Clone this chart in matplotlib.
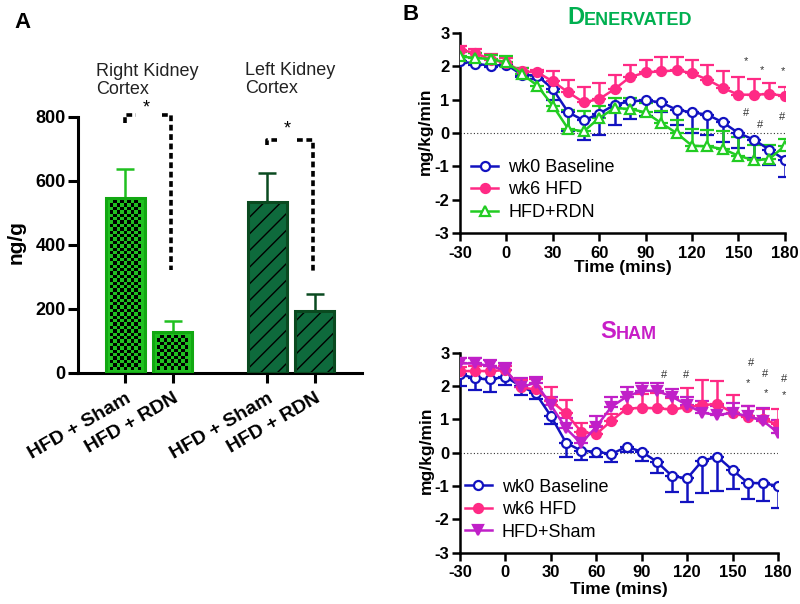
import numpy as np
import matplotlib
matplotlib.use('Agg')
import matplotlib.pyplot as plt
from matplotlib.colors import ListedColormap

plt.rcParams['font.family'] = ['Liberation Sans', 'DejaVu Sans']
plt.rcParams['axes.unicode_minus'] = False

# %% data - panel A
groups = ['HFD + Sham', 'HFD + RDN', 'HFD + Sham', 'HFD + RDN']
bar_pos = [1, 2, 4, 5]
bar_vals = [547, 128, 534, 194]
bar_errs = [90, 35, 91, 53]

# %% data - panel B
times = [-30, -20, -10, 0, 10, 20, 30, 40, 50, 60, 70, 80, 90, 100, 110, 120, 130, 140, 150, 160, 170, 180]

den_base = [2.15, 2.08, 2.02, 2.05, 1.75, 1.72, 1.32, 0.62, 0.38, 0.58, 0.85, 0.95, 0.98, 0.92, 0.70, 0.62, 0.55, 0.32, 0.00, -0.20, -0.50, -0.80]
den_base_err = [0.05, 0.05, 0.05, 0.05, 0.08, 0.10, 0.32, 0.57, 0.58, 0.63, 0.60, 0.53, 0.48, 0.30, 0.45, 0.62, 0.60, 0.60, 0.45, 0.55, 0.45, 0.52]
den_hfd = [2.50, 2.40, 2.20, 2.10, 1.85, 1.82, 1.55, 1.22, 0.92, 1.02, 1.32, 1.68, 1.82, 1.85, 1.88, 1.80, 1.60, 1.35, 1.15, 1.15, 1.17, 1.12]
den_hfd_err = [0.12, 0.12, 0.18, 0.15, 0.10, 0.08, 0.30, 0.38, 0.46, 0.48, 0.43, 0.37, 0.38, 0.43, 0.40, 0.40, 0.45, 0.50, 0.53, 0.47, 0.33, 0.26]
den_rdn = [2.30, 2.25, 2.22, 2.12, 1.78, 1.42, 0.82, 0.12, 0.05, 0.45, 0.75, 0.72, 0.62, 0.30, 0.00, -0.38, -0.40, -0.48, -0.68, -0.82, -0.78, -0.38]
den_rdn_err = [0.12, 0.15, 0.13, 0.18, 0.17, 0.30, 0.40, 0.58, 0.60, 0.35, 0.30, 0.33, 0.28, 0.35, 0.40, 0.50, 0.50, 0.53, 0.56, 0.47, 0.41, 0.20]

sham_base = [2.36, 2.23, 2.20, 2.28, 2.00, 1.78, 1.10, 0.30, 0.06, 0.03, -0.04, 0.18, 0.03, -0.27, -0.70, -0.77, -0.24, -0.12, -0.52, -0.90, -0.92, -0.99]
sham_base_err = [0.36, 0.35, 0.37, 0.25, 0.27, 0.18, 0.24, 0.42, 0.28, 0.15, 0.23, 0.15, 0.27, 0.33, 0.47, 0.70, 0.96, 1.02, 0.58, 0.50, 0.53, 0.68]
sham_hfd = [2.45, 2.45, 2.45, 2.48, 1.96, 1.90, 1.56, 1.18, 0.63, 0.56, 0.96, 1.32, 1.35, 1.33, 1.30, 1.36, 1.43, 1.46, 1.20, 1.06, 1.00, 0.85]
sham_hfd_err = [0.13, 0.15, 0.15, 0.12, 0.22, 0.30, 0.40, 0.40, 0.27, 0.25, 0.20, 0.36, 0.40, 0.45, 0.33, 0.57, 0.75, 0.70, 0.53, 0.34, 0.32, 0.45]
sham_sham = [2.68, 2.68, 2.60, 2.48, 1.96, 2.10, 1.43, 0.73, 0.28, 0.78, 1.38, 1.68, 1.86, 1.86, 1.68, 1.43, 1.20, 1.13, 1.20, 1.10, 0.96, 0.60]
sham_sham_err = [0.15, 0.15, 0.17, 0.20, 0.27, 0.16, 0.25, 0.30, 0.20, 0.32, 0.30, 0.28, 0.24, 0.22, 0.22, 0.23, 0.35, 0.27, 0.30, 0.30, 0.37, 0.38]

den_marks = [('*', 155, 2.17), ('*', 165, 1.90), ('*', 178.5, 1.85),
             ('#', 155, 0.60), ('#', 164, 0.25), ('#', 178, 0.48)]
sham_marks = [('#', 105, 2.33), ('#', 119, 2.33), ('#', 162, 2.68), ('#', 171.5, 2.36), ('#', 184, 2.20),
              ('*', 160, 2.08), ('*', 172, 1.80), ('*', 184, 1.73)]

LIGHT_GREEN = '#20c020'
LIGHT_EDGE = '#12a812'
DARK_GREEN = '#0e6a3c'
DARK_EDGE = '#0a4a20'
BLUE = '#1212c0'
PINK = '#ff2a85'
GREEN = '#22cc22'
MAGENTA = '#c020c8'

fig = plt.figure(figsize=(8, 6.04), dpi=100)


def style_axes(ax, lw):
    for side in ['top', 'right']:
        ax.spines[side].set_visible(False)
    for side in ['left', 'bottom']:
        ax.spines[side].set_linewidth(lw)


# %% panel A
axA = fig.add_axes([0.0975, 0.3825, 0.355, 0.4238])
style_axes(axA, 2.2)
axA.set_xlim(0, 6)
axA.set_ylim(0, 800)

bars = axA.bar(bar_pos[:2], bar_vals[:2], width=0.82, color=LIGHT_GREEN, linewidth=0, zorder=2)
axA.bar(bar_pos[2:], bar_vals[2:], width=0.82, color=DARK_GREEN, edgecolor='black',
        hatch='//', linewidth=0, zorder=2)
axA.bar(bar_pos[:2], bar_vals[:2], width=0.82, fill=False, edgecolor=LIGHT_EDGE, linewidth=2.2, zorder=4)
axA.bar(bar_pos[2:], bar_vals[2:], width=0.82, fill=False, edgecolor=DARK_EDGE, linewidth=2.2, zorder=4)

# checker texture inside the first two bars
checker_cmap = ListedColormap([LIGHT_GREEN, 'black'])
for b in bars:
    bb = b.get_window_extent()
    nx = max(1, int(round((bb.width - 8) / 3.4)))
    ny = max(1, int(round((bb.height - 6) / 3.4)))
    cells = np.indices((ny, nx)).sum(axis=0) % 2
    x0 = b.get_x()
    w = b.get_width()
    h = b.get_height()
    padx = w * 4 / bb.width
    pady = h * 3 / bb.height
    im = axA.imshow(cells, cmap=checker_cmap, interpolation='nearest', aspect='auto',
                    extent=(x0 + padx, x0 + w - padx, pady, h - pady), zorder=3)
    im.set_clip_path(b)
axA.set_xlim(0, 6)
axA.set_ylim(0, 800)

axA.errorbar(bar_pos[:2], bar_vals[:2], yerr=[[0, 0], bar_errs[:2]], fmt='none',
             ecolor=LIGHT_GREEN, elinewidth=1.8, capsize=6.5, capthick=1.8, zorder=1)
axA.errorbar(bar_pos[2:], bar_vals[2:], yerr=[[0, 0], bar_errs[2:]], fmt='none',
             ecolor=DARK_EDGE, elinewidth=1.8, capsize=6.5, capthick=1.8, zorder=1)

axA.set_yticks([0, 200, 400, 600, 800])
axA.set_xticks(bar_pos, labels=groups)
axA.tick_params(axis='both', direction='out', width=2.2, length=7, labelsize=13, pad=2)
axA.tick_params(axis='x', pad=5, labelsize=14)
plt.setp(axA.get_yticklabels(), fontweight='bold')
plt.setp(axA.get_xticklabels(), fontweight='bold', rotation=30, ha='right', rotation_mode='anchor')
axA.set_ylabel('ng/g', fontsize=15, fontweight='bold')
axA.yaxis.set_label_coords(-0.185, 0.51)

# significance brackets
dash = dict(color='black', lw=2.6, ls=(0, (1.6, 1.0)), clip_on=False, zorder=5)
axA.plot([1, 1, 1.22], [780, 806, 806], **dash)
axA.plot([1.78, 1.97, 1.97], [806, 806, 322], **dash)
axA.text(1.45, 828, '*', ha='center', va='center', fontsize=13, clip_on=False)
axA.plot([4, 4, 4.2], [712, 728, 728], **dash)
axA.plot([4.63, 4.96, 4.96], [728, 728, 312], **dash)
axA.text(4.42, 762, '*', ha='center', va='center', fontsize=13, clip_on=False)

fig.text(96 / 800, 1 - 63 / 604, 'Right Kidney\nCortex', fontsize=13, color='#222222',
         va='top', ha='left', linespacing=1.05)
fig.text(245 / 800, 1 - 62 / 604, 'Left Kidney\nCortex', fontsize=13, color='#222222',
         va='top', ha='left', linespacing=1.05)
fig.text(14 / 800, 1 - 22 / 604, 'A', fontsize=16, fontweight='bold', va='center')
fig.text(403 / 800, 1 - 15 / 604, 'B', fontsize=16, fontweight='bold', va='center')


# %% panel B
def time_panel(rect, series, marks, label_y):
    ax = fig.add_axes(rect)
    style_axes(ax, 1.8)
    ax.axhline(0, color='#333333', lw=0.8, ls=(0, (1, 2)), zorder=1)
    handles = []
    labels = []
    for vals, errs, color, marker, mfc, up, label in series:
        zeros = [0] * len(errs)
        yerr = [zeros, errs] if up else [errs, zeros]
        eb = ax.errorbar(times, vals, yerr=yerr, color=color, marker=marker, mfc=mfc, mec=color,
                         ms=6.5, mew=1.6, lw=1.8, elinewidth=1.8, capsize=5, capthick=1.8,
                         zorder=3)
        handles.append(eb[0])
        labels.append(label)
    for s, x, y in marks:
        ax.text(x, y, s, ha='center', va='center', fontsize=8, color='#333333', clip_on=False)
    ax.set_xlim(-30, 180)
    ax.set_ylim(-3, 3)
    ax.set_xticks([-30, 0, 30, 60, 90, 120, 150, 180])
    ax.set_yticks([-3, -2, -1, 0, 1, 2, 3])
    ax.tick_params(axis='both', direction='out', width=1.8, length=6, labelsize=12, pad=1.5)
    ax.tick_params(axis='x', pad=3)
    plt.setp(ax.get_xticklabels() + ax.get_yticklabels(), fontweight='bold')
    ax.set_xlabel('Time (mins)', fontsize=12.5, fontweight='bold')
    ax.set_ylabel('mg/kg/min', fontsize=12.5, fontweight='bold')
    ax.xaxis.set_label_coords(0.5, label_y)
    ax.yaxis.set_label_coords(-0.082, 0.51)
    ax.legend(handles, labels, loc='upper left', frameon=False, fontsize=13,
              handlelength=1.5, handletextpad=0.55, labelspacing=0.3,
              borderpad=0, borderaxespad=0)
    return ax


axB1 = time_panel([0.575, 0.6142, 0.406, 0.3311],
                  [(den_base, den_base_err, BLUE, 'o', 'white', False, 'wk0 Baseline'),
                   (den_hfd, den_hfd_err, PINK, 'o', PINK, True, 'wk6 HFD'),
                   (den_rdn, den_rdn_err, GREEN, '^', 'white', True, 'HFD+RDN')],
                  den_marks, -0.135)
axB1.get_legend().set_bbox_to_anchor((0.035, 0.37), transform=axB1.transAxes)

axB2 = time_panel([0.575, 0.0849, 0.3975, 0.3311],
                  [(sham_base, sham_base_err, BLUE, 'o', 'white', False, 'wk0 Baseline'),
                   (sham_hfd, sham_hfd_err, PINK, 'o', PINK, True, 'wk6 HFD'),
                   (sham_sham, sham_sham_err, MAGENTA, 'v', MAGENTA, True, 'HFD+Sham')],
                  sham_marks, -0.145)
axB2.get_legend().set_bbox_to_anchor((0.015, 0.37), transform=axB2.transAxes)

# small-caps style titles
t = fig.text(567 / 800, 1 - 24 / 604, 'D', fontsize=17, fontweight='bold', color='#00b050', va='baseline')
plt.annotate('ENERVATED', xy=(1, 0), xycoords=t, fontsize=13, fontweight='bold',
             color='#00b050', va='bottom', ha='left', annotation_clip=False)
t2 = fig.text(600 / 800, 1 - 338 / 604, 'S', fontsize=17, fontweight='bold', color='#c81ec8', va='baseline')
plt.annotate('HAM', xy=(1, 0), xycoords=t2, fontsize=13, fontweight='bold',
             color='#c81ec8', va='bottom', ha='left', annotation_clip=False)

fig.savefig('out.png', dpi=100)
